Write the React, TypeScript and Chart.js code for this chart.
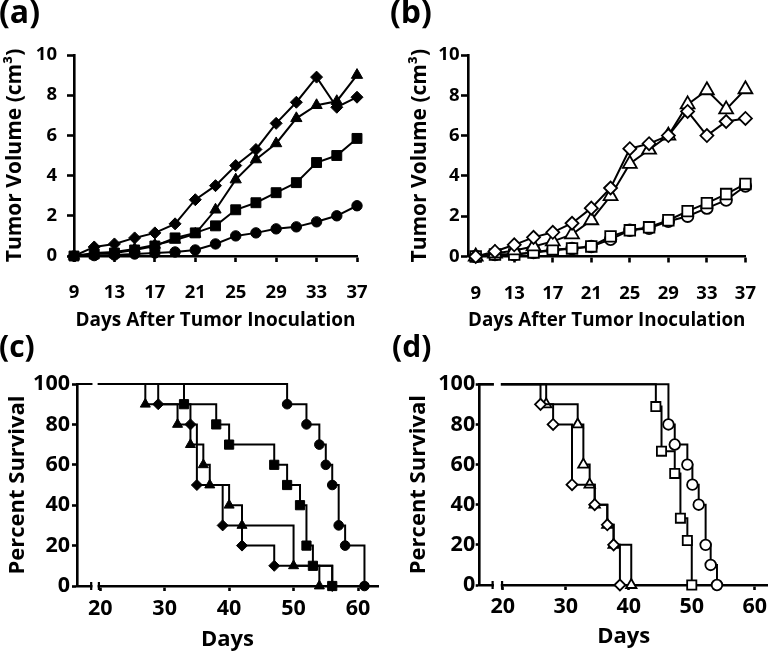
import React, { useEffect, useRef } from 'react';
import { Chart, registerables } from 'chart.js';

Chart.register(...registerables);

// ---------------- data: tumour growth, panels (a) and (b) ----------------
const GROWTH_DAYS = [9, 11, 13, 15, 17, 19, 21, 23, 25, 27, 29, 31, 33, 35, 37];
const GROWTH_X_TICKS = [9, 13, 17, 21, 25, 29, 33, 37];
const GROWTH_Y_TICKS = [0, 2, 4, 6, 8, 10];

const A_DIAMOND = [0, 0.45, 0.6, 0.9, 1.15, 1.6, 2.8, 3.5, 4.5, 5.3, 6.6, 7.65, 8.9, 7.4, 7.9];
const A_TRIANGLE = [0, 0.15, 0.2, 0.35, 0.55, 0.8, 1.1, 2.3, 3.8, 4.8, 5.6, 6.85, 7.5, 7.7, 9.0];
const A_SQUARE = [0, 0.1, 0.15, 0.3, 0.5, 0.9, 1.15, 1.5, 2.3, 2.65, 3.15, 3.65, 4.65, 5.0, 5.85];
const A_CIRCLE = [0, 0.02, 0.05, 0.1, 0.15, 0.2, 0.3, 0.6, 1.0, 1.15, 1.35, 1.45, 1.7, 2.0, 2.5];

const B_DIAMOND = [0, 0.25, 0.58, 0.95, 1.2, 1.65, 2.4, 3.4, 5.35, 5.6, 6.0, 7.2, 6.0, 6.7, 6.85];
const B_TRIANGLE = [0, 0.15, 0.3, 0.5, 0.75, 1.1, 1.8, 3.0, 4.6, 5.3, 6.0, 7.55, 8.25, 7.3, 8.3];
const B_SQUARE = [0, 0.1, 0.1, 0.2, 0.35, 0.4, 0.5, 1.0, 1.3, 1.45, 1.8, 2.25, 2.65, 3.1, 3.6];
const B_CIRCLE = [0, 0.1, 0.1, 0.2, 0.3, 0.4, 0.5, 0.85, 1.3, 1.4, 1.75, 2.0, 2.4, 2.8, 3.5];

// ---------------- data: survival, panels (c) and (d) ----------------
const SURV_X_TICKS = [20, 30, 40, 50, 60];
const SURV_Y_TICKS = [0, 20, 40, 60, 80, 100];

const C_TRIANGLE_DAYS = [0, 27, 32, 34, 36, 37, 40, 42, 50, 54];
const C_TRIANGLE_PCT = [100, 90, 80, 70, 60, 50, 40, 30, 10, 0];
const C_DIAMOND_DAYS = [0, 29, 34, 35, 39, 42, 47, 56];
const C_DIAMOND_PCT = [100, 90, 80, 50, 30, 20, 10, 0];
const C_SQUARE_DAYS = [0, 33, 38, 40, 47, 49, 51, 52, 53, 56];
const C_SQUARE_PCT = [100, 90, 80, 70, 60, 50, 40, 20, 10, 0];
const C_CIRCLE_DAYS = [0, 49, 52, 54, 55, 56, 57, 58, 61];
const C_CIRCLE_PCT = [100, 90, 80, 70, 60, 50, 30, 20, 0];

const D_DIAMOND_DAYS = [0, 26, 28, 31, 34.6, 36.6, 37.6, 38.6];
const D_DIAMOND_PCT = [100, 90, 80, 50, 40, 30, 20, 0];
const D_TRIANGLE_DAYS = [0, 26.9, 31.9, 32.8, 33.8, 34.6, 36.6, 37.6, 40.4];
const D_TRIANGLE_PCT = [100, 90, 80, 60, 50, 40, 30, 20, 0];
const D_SQUARE_DAYS = [0, 44.3, 45.2, 47.3, 48.2, 49.3, 50];
const D_SQUARE_PCT = [100, 88.9, 66.7, 55.6, 33.3, 22.2, 0];
const D_CIRCLE_DAYS = [0, 46.3, 47.3, 49.3, 50.1, 51.1, 52.2, 53, 54];
const D_CIRCLE_PCT = [100, 80, 70, 60, 50, 40, 20, 10, 0];

// broken x axis of the survival panels (days hidden between these values)
const C_AXIS_BREAK = [18.6, 19.8];
const D_AXIS_BREAK = [18.4, 19.9];

// ---------------- styling ----------------
const FONT = '"Open Sans", "Liberation Sans", sans-serif';
const AXIS_W = 2.6;

type Series = { xs: number[]; ys: number[]; shape: string; radius: number; open: boolean };

type PanelSpec = {
  width: number;
  height: number;
  area: { left: number; top: number; right: number; bottom: number };
  xMin: number; xMax: number; xTicks: number[];
  yMin: number; yMax: number; yTicks: number[];
  xTitle: string; yTitle: string;
  tickSize: number; xTitleSize: number; yTitleSize: number;
  xTickLen: number; yTickLen: number; xTickPad: number; yTickPad: number;
  xTitlePad: number; yTitleCenter: number;
  stepped: boolean;
  breakRange?: number[];
  series: Series[];
};

function makeDataset(s: Series, p: PanelSpec) {
  return {
    data: s.xs.map((x, i) => ({ x, y: s.ys[i] })),
    borderColor: '#000',
    borderWidth: 2,
    tension: 0,
    fill: false,
    stepped: p.stepped,
    pointStyle: s.shape,
    pointRadius: (ctx: any) => (p.stepped && ctx.dataIndex === 0 ? 0 : s.radius),
    pointHoverRadius: (ctx: any) => (p.stepped && ctx.dataIndex === 0 ? 0 : s.radius),
    pointBackgroundColor: s.open ? '#fff' : '#000',
    pointBorderColor: '#000',
    pointBorderWidth: s.open ? 1.8 : 1,
    clip: p.stepped ? { left: 0, top: 12, right: 12, bottom: 12 } : false,
  };
}

function buildConfig(p: PanelSpec): any {
  const a = p.area;
  const tickFont = { family: FONT, weight: 'bold', size: p.tickSize };
  const halfTitle = 0.6 * p.yTitleSize;
  const padLeft = Math.max(0, p.yTitleCenter - halfTitle - 1);
  const yTitlePadTop = p.yTitleCenter - halfTitle - padLeft;
  const plugins: any[] = [];
  if (p.breakRange) {
    const br = p.breakRange;
    plugins.push({
      id: 'axisBreak',
      afterDraw(chart: any) {
        const { ctx, chartArea } = chart;
        const xs = chart.scales.x;
        const x0 = xs.getPixelForValue(br[0]);
        const x1 = xs.getPixelForValue(br[1]);
        ctx.save();
        ctx.fillStyle = '#fff';
        ctx.fillRect(x0 + 1.3, chartArea.top - 6, x1 - x0 - 2.6, chartArea.bottom - chartArea.top + 12);
        ctx.strokeStyle = '#000';
        ctx.lineWidth = 2.2;
        ctx.beginPath();
        ctx.moveTo(x0, chartArea.bottom - 4);
        ctx.lineTo(x0, chartArea.bottom + 4);
        ctx.moveTo(x1, chartArea.bottom - 4);
        ctx.lineTo(x1, chartArea.bottom + 4);
        ctx.stroke();
        ctx.restore();
      },
    });
  }
  return {
    type: 'line',
    data: { datasets: p.series.map((s) => makeDataset(s, p)) },
    options: {
      animation: false,
      responsive: false,
      maintainAspectRatio: false,
      devicePixelRatio: 1,
      events: [],
      layout: { padding: { left: padLeft, top: a.top, right: p.width - a.right, bottom: 0 } },
      plugins: { legend: { display: false }, tooltip: { enabled: false }, title: { display: false } },
      scales: {
        x: {
          type: 'linear',
          position: 'bottom',
          min: p.xMin,
          max: p.xMax,
          afterBuildTicks: (s: any) => {
            s.ticks = p.xTicks.map((v) => ({ value: v }));
          },
          afterFit: (s: any) => {
            s.height = p.height - a.bottom;
          },
          border: { display: true, color: '#000', width: AXIS_W },
          grid: {
            display: true,
            drawOnChartArea: false,
            drawTicks: true,
            tickLength: p.xTickLen,
            tickColor: '#000',
            tickWidth: AXIS_W,
          },
          ticks: { color: '#000', font: tickFont, padding: p.xTickPad, maxRotation: 0, autoSkip: false },
          title: {
            display: true,
            text: p.xTitle,
            color: '#000',
            font: { family: FONT, weight: 'bold', size: p.xTitleSize },
            padding: { top: 0, bottom: p.xTitlePad },
          },
        },
        y: {
          type: 'linear',
          position: 'left',
          min: p.yMin,
          max: p.yMax,
          afterBuildTicks: (s: any) => {
            s.ticks = p.yTicks.map((v) => ({ value: v }));
          },
          afterFit: (s: any) => {
            s.width = a.left - padLeft;
          },
          border: { display: true, color: '#000', width: AXIS_W },
          grid: {
            display: true,
            drawOnChartArea: false,
            drawTicks: true,
            tickLength: p.yTickLen,
            tickColor: '#000',
            tickWidth: AXIS_W,
          },
          ticks: { color: '#000', font: tickFont, padding: p.yTickPad, autoSkip: false },
          title: {
            display: true,
            text: p.yTitle,
            color: '#000',
            font: { family: FONT, weight: 'bold', size: p.yTitleSize },
            padding: { top: yTitlePadTop, bottom: 0 },
          },
        },
      },
    },
    plugins,
  };
}

const S = (xs: number[], ys: number[], shape: string, radius: number, open: boolean): Series => ({
  xs, ys, shape, radius, open,
});

const PANEL_A: PanelSpec = {
  width: 388, height: 340,
  area: { left: 74, top: 55, right: 357, bottom: 256 },
  xMin: 9, xMax: 37, xTicks: GROWTH_X_TICKS,
  yMin: 0, yMax: 10, yTicks: GROWTH_Y_TICKS,
  xTitle: 'Days After Tumor Inoculation', yTitle: 'Tumor Volume (cm³)',
  tickSize: 18.5, xTitleSize: 19, yTitleSize: 21,
  xTickLen: 6, yTickLen: 7, xTickPad: 20, yTickPad: 10,
  xTitlePad: 8, yTitleCenter: 15,
  stepped: false,
  series: [
    S(GROWTH_DAYS, A_DIAMOND, 'rectRot', 6, false),
    S(GROWTH_DAYS, A_TRIANGLE, 'triangle', 6.5, false),
    S(GROWTH_DAYS, A_SQUARE, 'rect', 7, false),
    S(GROWTH_DAYS, A_CIRCLE, 'circle', 5.2, false),
  ],
};

const PANEL_B: PanelSpec = {
  width: 388, height: 340,
  area: { left: 80, top: 55, right: 372.5, bottom: 256.5 },
  xMin: 8.2, xMax: 37, xTicks: GROWTH_X_TICKS,
  yMin: 0, yMax: 10, yTicks: GROWTH_Y_TICKS,
  xTitle: 'Days After Tumor Inoculation', yTitle: 'Tumor Volume (cm³)',
  tickSize: 18.5, xTitleSize: 19, yTitleSize: 21,
  xTickLen: 6, yTickLen: 7, xTickPad: 20, yTickPad: 1.5,
  xTitlePad: 8, yTitleCenter: 31.7,
  stepped: false,
  series: [
    S(GROWTH_DAYS, B_DIAMOND, 'rectRot', 6.5, true),
    S(GROWTH_DAYS, B_TRIANGLE, 'triangle', 8, true),
    S(GROWTH_DAYS, B_SQUARE, 'rect', 7.5, true),
    S(GROWTH_DAYS, B_CIRCLE, 'circle', 5.8, true),
  ],
};

const PANEL_C: PanelSpec = {
  width: 388, height: 325,
  area: { left: 77, top: 54, right: 378, bottom: 256 },
  xMin: 16.4, xMax: 63.1, xTicks: SURV_X_TICKS,
  yMin: 0, yMax: 100, yTicks: SURV_Y_TICKS,
  xTitle: 'Days', yTitle: 'Percent Survival',
  tickSize: 21.5, xTitleSize: 22, yTitleSize: 22,
  xTickLen: 5, yTickLen: 5, xTickPad: 5, yTickPad: 2,
  xTitlePad: 2.5, yTitleCenter: 17.5,
  stepped: true,
  breakRange: C_AXIS_BREAK,
  series: [
    S(C_DIAMOND_DAYS, C_DIAMOND_PCT, 'rectRot', 5.5, false),
    S(C_TRIANGLE_DAYS, C_TRIANGLE_PCT, 'triangle', 5.8, false),
    S(C_SQUARE_DAYS, C_SQUARE_PCT, 'rect', 6.5, false),
    S(C_CIRCLE_DAYS, C_CIRCLE_PCT, 'circle', 4.8, false),
  ],
};

const PANEL_D: PanelSpec = {
  width: 388, height: 325,
  area: { left: 91.7, top: 54.3, right: 387, bottom: 255 },
  xMin: 16.35, xMax: 62.05, xTicks: SURV_X_TICKS,
  yMin: 0, yMax: 100, yTicks: SURV_Y_TICKS,
  xTitle: 'Days', yTitle: 'Percent Survival',
  tickSize: 21.5, xTitleSize: 22, yTitleSize: 22,
  xTickLen: 5, yTickLen: 4, xTickPad: 4, yTickPad: 0.5,
  xTitlePad: 5, yTitleCenter: 30.8,
  stepped: true,
  breakRange: D_AXIS_BREAK,
  series: [
    S(D_DIAMOND_DAYS, D_DIAMOND_PCT, 'rectRot', 5.5, true),
    S(D_TRIANGLE_DAYS, D_TRIANGLE_PCT, 'triangle', 6, true),
    S(D_SQUARE_DAYS, D_SQUARE_PCT, 'rect', 6.5, true),
    S(D_CIRCLE_DAYS, D_CIRCLE_PCT, 'circle', 5.3, true),
  ],
};

function ChartCanvas({ left, top, spec }: { left: number; top: number; spec: PanelSpec }) {
  const ref = useRef<HTMLCanvasElement>(null);
  useEffect(() => {
    if (!ref.current) return;
    const chart = new Chart(ref.current, buildConfig(spec));
    return () => chart.destroy();
  }, [spec]);
  return (
    <canvas
      ref={ref}
      width={spec.width}
      height={spec.height}
      style={{ position: 'absolute', left, top, width: spec.width, height: spec.height }}
    />
  );
}

function PanelLabel({ text, left, top, size }: { text: string; left: number; top: number; size: number }) {
  return (
    <div
      style={{
        position: 'absolute',
        left,
        top,
        fontFamily: FONT,
        fontWeight: 700,
        fontSize: size,
        lineHeight: 1,
        color: '#000',
        whiteSpace: 'nowrap',
      }}
    >
      {text}
    </div>
  );
}

export default function App() {
  return (
    <div
      style={{
        position: 'absolute',
        left: 0,
        top: 0,
        width: 776,
        height: 655,
        background: '#fff',
        overflow: 'hidden',
      }}
    >
      <ChartCanvas left={0} top={0} spec={PANEL_A} />
      <ChartCanvas left={388} top={0} spec={PANEL_B} />
      <ChartCanvas left={0} top={330} spec={PANEL_C} />
      <ChartCanvas left={388} top={330} spec={PANEL_D} />
      <PanelLabel text="(a)" left={-1} top={-5} size={32} />
      <PanelLabel text="(b)" left={390} top={-5} size={32} />
      <PanelLabel text="(c)" left={-1} top={331} size={30} />
      <PanelLabel text="(d)" left={392} top={331} size={30} />
    </div>
  );
}
